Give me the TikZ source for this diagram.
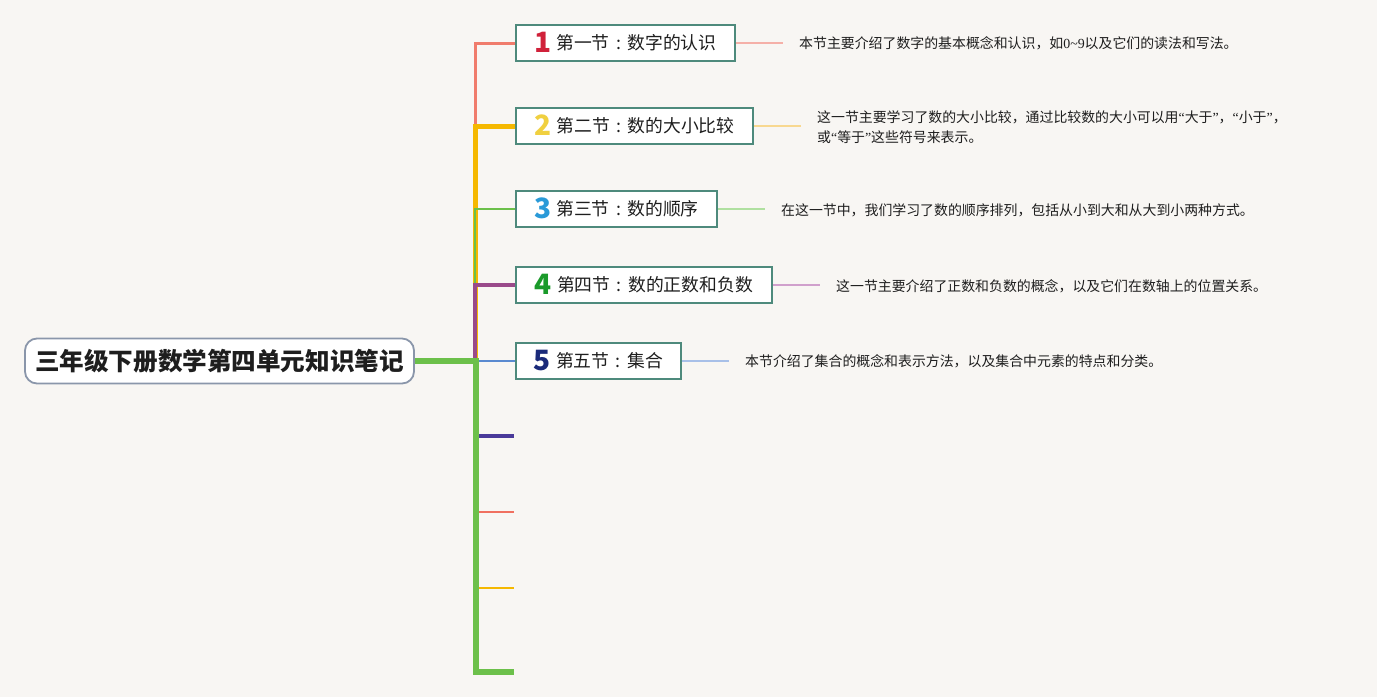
\documentclass[tikz,border=0pt]{standalone}
\usepackage{fontspec}
\setmainfont{Noto Sans CJK SC}
\newfontfamily\latinf{Liberation Serif}
\newcommand\numf{\fontsize{28}{28}\selectfont\bfseries}
\newcommand\dig[2]{\smash{\raisebox{-3pt}{\numf\color{#1}#2}}\hspace{5pt}}
\newcommand\colo{\makebox[1em]{:}}
\newcommand\oq{{\latinf “}}
\newcommand\cq{{\latinf ”}}
\pgfdeclarelayer{paper}
\pgfdeclarelayer{lines}
\pgfsetlayers{paper,lines,main}
\definecolor{bg}{HTML}{F8F6F3}
\definecolor{boxline}{HTML}{4E8A7C}
\definecolor{rootline}{HTML}{8A96AA}
\definecolor{txt}{HTML}{1E1E1E}
\definecolor{cA}{HTML}{F07C6C}
\definecolor{cAl}{HTML}{F5B0A8}
\definecolor{cB}{HTML}{F5B800}
\definecolor{cBl}{HTML}{F8D890}
\definecolor{cC}{HTML}{6CC04A}
\definecolor{cCl}{HTML}{B0E0A0}
\definecolor{cD}{HTML}{9A4A8A}
\definecolor{cDl}{HTML}{D0A0CC}
\definecolor{cE}{HTML}{5A8AD0}
\definecolor{cEl}{HTML}{A8C0E8}
\definecolor{cF}{HTML}{4A3A9A}
\definecolor{cG}{HTML}{F07060}
\definecolor{nA}{HTML}{D0213A}
\definecolor{nB}{HTML}{F0D040}
\definecolor{nC}{HTML}{2A9AD8}
\definecolor{nD}{HTML}{1A9A2A}
\definecolor{nE}{HTML}{1A2A7A}
\tikzset{
  rootbox/.style={draw=rootline, line width=1.8pt, fill=white, rounded corners=12pt,
    minimum width=389pt, minimum height=45pt, inner sep=0pt, text=txt,
    font=\fontsize{24.6}{28}\selectfont\bfseries},
  secbox/.style={draw=boxline, line width=1.8pt, fill=white, minimum height=36pt,
    inner sep=0pt, anchor=west, text=txt, font=\fontsize{17.8}{20}\selectfont},
  desc/.style={anchor=west, inner xsep=16pt, inner ysep=0pt, text=txt, align=left,
    font=\fontsize{13.9}{20}\selectfont},
  link/.style={line width=1.5pt},
  br/.style={line join=miter, line cap=butt}
}
\begin{document}
\begin{tikzpicture}[x=1pt,y=-1pt]
\begin{pgfonlayer}{paper}
\fill[bg] (0,0) rectangle (1377,697);
\end{pgfonlayer}
\useasboundingbox (0,0) rectangle (1377,697);

% nodes
\node[rootbox] (root) at (219.5,361) {三年级下册数学第四单元知识笔记};
\node[secbox, minimum width=219pt] (b1) at (515,43) {\dig{nA}{1}第一节\colo 数字的认识};
\node[secbox, minimum width=237pt] (b2) at (515,126) {\dig{nB}{2}第二节\colo 数的大小比较};
\node[secbox, minimum width=201pt] (b3) at (515,209) {\dig{nC}{3}第三节\colo 数的顺序};
\node[secbox, minimum width=256pt] (b4) at (515,285) {\dig{nD}{4}第四节\colo 数的正数和负数};
\node[secbox, minimum width=165pt] (b5) at (515,361) {\dig{nE}{5}第五节\colo 集合};

\node[desc] (d1) at (783,43) {本节主要介绍了数字的基本概念和认识，如{\latinf 0\textasciitilde9}以及它们的读法和写法。};
\node[desc] (d2) at (801,127) {这一节主要学习了数的大小比较，通过比较数的大小可以用\oq 大于\cq，\oq 小于\cq，\\或\oq 等于\cq 这些符号来表示。};
\node[desc] (d3) at (765,210) {在这一节中，我们学习了数的顺序排列，包括从小到大和从大到小两种方式。};
\node[desc] (d4) at (820,286) {这一节主要介绍了正数和负数的概念，以及它们在数轴上的位置关系。};
\node[desc] (d5) at (729,361) {本节介绍了集合的概念和表示方法，以及集合中元素的特点和分类。};

\coordinate (t) at (475,361);
\coordinate (tg) at (476,361);
\coordinate (e6) at (514,436);
\coordinate (e7) at (514,512);
\coordinate (e8) at (514,588);
\coordinate (e9) at (514,672);

\begin{pgfonlayer}{lines}
\draw[br, cA, line width=3pt] (t) |- (b1.west);
\draw[br, cB, line width=5pt] (t) |- (b2.west);
\draw[br, cC, line width=2pt] (t) |- (b3.west);
\draw[br, cD, line width=3.5pt] (t) |- (b4.west);
\draw[br, cE, line width=2.5pt] (t) |- (b5.west);
\draw[br, cF, line width=3.5pt] (t) |- (e6);
\draw[br, cG, line width=2pt] (t) |- (e7);
\draw[br, cB, line width=2pt] (t) |- (e8);
\draw[br, cC, line width=6pt] (root.east) -- (tg) |- (e9);
\draw[link, cAl] (b1.east) -- (d1.west);
\draw[link, cBl] (b2.east) -- (b2.east -| d2.west);
\draw[link, cCl] (b3.east) -- (b3.east -| d3.west);
\draw[link, cDl] (b4.east) -- (b4.east -| d4.west);
\draw[link, cEl] (b5.east) -- (d5.west);
\end{pgfonlayer}
\end{tikzpicture}
\end{document}
